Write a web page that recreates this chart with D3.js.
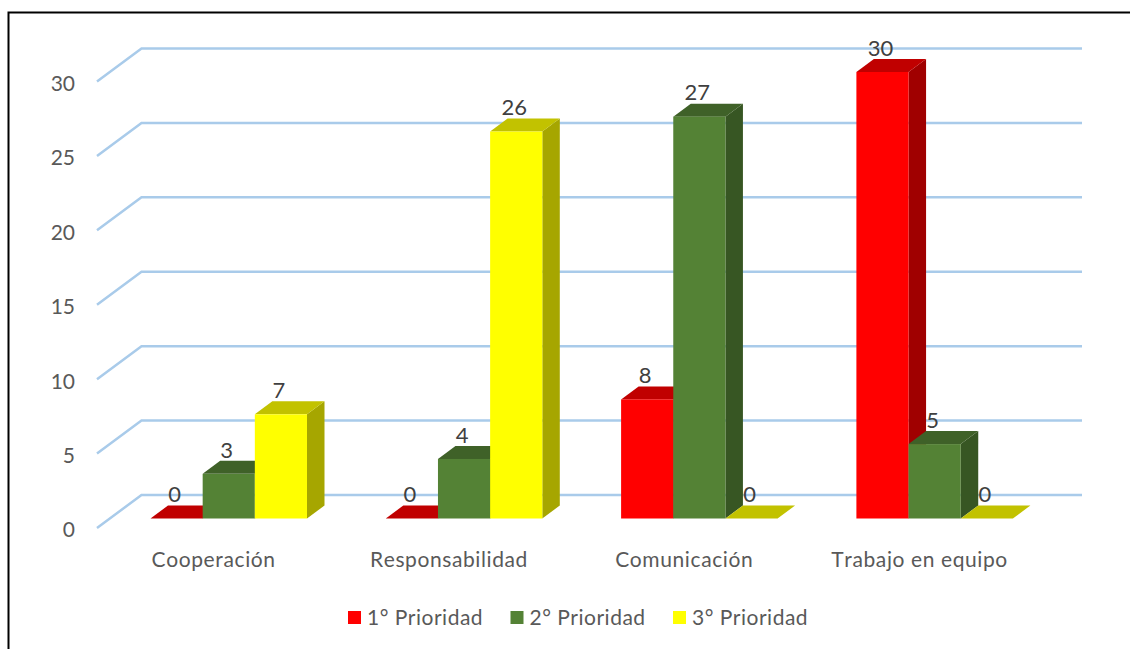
<!DOCTYPE html>
<html><head><meta charset="utf-8">
<script src="https://cdn.jsdelivr.net/npm/d3@7"></script>
<style>
html,body{margin:0;padding:0;background:#fff;overflow:hidden}
text{font-family:Lato,"Open Sans",sans-serif;font-size:21px;font-kerning:none}
</style></head><body>
<svg id="c" width="1130" height="649"></svg>
<script>
const categories = ["Cooperación","Responsabilidad","Comunicación","Trabajo en equipo"];
const seriesNames = ["1° Prioridad","2° Prioridad","3° Prioridad"];
const prioridad1 = [0,0,8,30];
const prioridad2 = [3,4,27,5];
const prioridad3 = [7,26,0,0];
const yTicks = [0,5,10,15,20,25,30];
const seriesValues = [prioridad1,prioridad2,prioridad3];
const fronts = ["#FF0000","#548235","#FFFF00"];
const tops = ["#C00000","#3F6128","#C2C200"];
const sides = ["#A00000","#375623","#A6A600"];
const svg = d3.select("#c");
const dx = 17.5, dy = 13;
const x0 = d3.scaleBand().domain(categories).range([111,1052.2]);
const x1 = d3.scaleBand().domain(d3.range(3)).range([39.5,196]);
const y = d3.scaleLinear().domain([0,30]).range([518.5,72]);
const gridFront = 9.5, gridBack = -23.5;

// frame
svg.append("path").attr("d","M8.5,649V12.5H1130").attr("fill","none").attr("stroke","#000").attr("stroke-width",2);

// grid
const g = svg.append("g").attr("fill","none").attr("stroke","#A9CBEA").attr("stroke-width",2.5);
g.selectAll("path").data(yTicks).join("path")
 .attr("d",d=>`M97,${y(d)+gridFront}L141.5,${y(d)+gridBack}H1082`);

// y labels
svg.append("g").selectAll("text").data(yTicks).join("text")
 .attr("x",75).attr("y",d=>y(d)+gridFront+2).attr("dy","0.35em").attr("text-anchor","end")
 .attr("fill","#595959").text(d=>d);

// bars
const bars = [];
categories.forEach((c,i)=>seriesValues.forEach((s,k)=>bars.push({c,k,v:s[i]})));
const bg = svg.append("g");
bars.forEach(b=>{
  const l = x0(b.c)+x1(b.k), r = l+x1.bandwidth(), t = y(b.v), f = y(0);
  const gg = bg.append("g");
  gg.append("path").attr("fill",sides[b.k]).attr("d",`M${r},${t}L${r+dx},${t-dy}V${f-dy}L${r},${f}Z`);
  gg.append("path").attr("fill",tops[b.k]).attr("d",`M${l},${t}L${l+dx},${t-dy}H${r+dx}L${r},${t}Z`);
  if(b.v>0) gg.append("rect").attr("fill",fronts[b.k]).attr("x",l).attr("y",t).attr("width",r-l).attr("height",f-t);
});

// data labels
svg.append("g").selectAll("text").data(bars).join("text")
 .attr("x",d=>x0(d.c)+x1(d.k)+x1.bandwidth()/2-2).attr("y",d=>y(d.v)-24).attr("dy","0.35em")
 .attr("text-anchor","middle").attr("fill","#404040").style("font-size","22px").text(d=>d.v);

// category labels
svg.append("g").selectAll("text").data(categories).join("text")
 .attr("x",d=>x0(d)+x0.bandwidth()/2-15).attr("y",560).attr("dy","0.35em")
 .attr("text-anchor","middle").attr("fill","#595959").style("letter-spacing","0.6px").text(d=>d);

// legend
const lx = d3.scalePoint().domain(seriesNames).range([348,673]);
const lg = svg.append("g").selectAll("g").data(seriesNames).join("g").attr("transform",d=>`translate(${lx(d)},611)`);
lg.append("rect").attr("width",13).attr("height",13).attr("fill",(d,i)=>fronts[i]);
lg.append("text").attr("x",19).attr("y",7).attr("dy","0.35em").attr("fill","#595959").style("letter-spacing","0.5px").text(d=>d);
</script></body></html>
